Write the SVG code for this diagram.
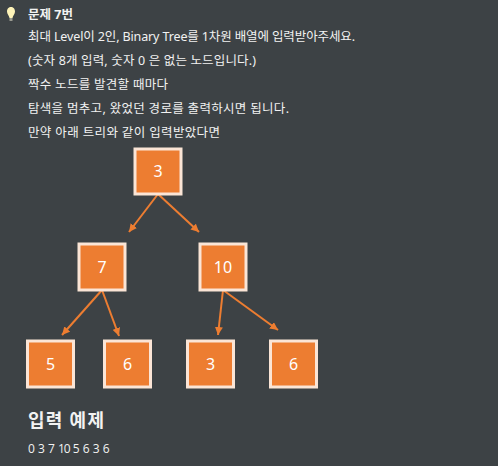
<svg xmlns="http://www.w3.org/2000/svg" width="498" height="466" viewBox="0 0 498 466">
<style>
text{font-family:"Noto Sans","Open Sans","Noto Sans CJK KR",sans-serif;fill:#f2f2f2}
.t{font-size:12.500px}
.n rect{fill:#ed7d31;stroke:#fbe5d6;stroke-width:3px}
.n text{font-size:16px;fill:#fff;text-anchor:middle}
.c{stroke:#ed7d31;stroke-width:2px;fill:none;marker-end:url(#a)}
</style>
<defs><marker id="a" markerUnits="userSpaceOnUse" markerWidth="9" markerHeight="8" refX="8" refY="4" orient="auto"><path d="M0 0L8 4L0 8Z" fill="#ed7d31"/></marker></defs>
<rect width="498" height="466" fill="#3d4245"/>
<g id="bulb"><path d="M11 7C8 7 7 9.500 7 11.500C7 14 9 15.500 9.500 18H12.500C13 15.500 15 14 15 11.500C15 9.500 14 7 11 7Z" fill="#fdf3b8"/><rect x="9.500" y="18" width="3" height="3" fill="#9a9a90"/></g>
<g id="text">
<text class="t" x="28" y="19" font-weight="700" textLength="45">문제 7번</text>
<text class="t" x="28" y="41" textLength="327">최대 Level이 2인, Binary Tree를 1차원 배열에 입력받아주세요.</text>
<text class="t" x="28" y="65" textLength="228">(숫자 8개 입력, 숫자 0 은 없는 노드입니다.)</text>
<text class="t" x="28" y="89" textLength="140">짝수 노드를 발견할 때마다</text>
<text class="t" x="28" y="113" textLength="261">탐색을 멈추고, 왔었던 경로를 출력하시면 됩니다.</text>
<text class="t" x="28" y="137" textLength="192">만약 아래 트리와 같이 입력받았다면</text>
<text x="28" y="427" font-size="18" font-weight="700" textLength="76">입력 예제</text>
<text x="28" y="453" font-size="12" style="font-family:'Open Sans','Noto Sans',sans-serif">0 3 7 <tspan letter-spacing="-1">10</tspan> 5 6 3 6</text>
</g>
<g id="connectors">
<path class="c" d="M158 194L129 232"/>
<path class="c" d="M158 194L199 232"/>
<path class="c" d="M102 290L62 335"/>
<path class="c" d="M102 290L119 336"/>
<path class="c" d="M223 290L218 335"/>
<path class="c" d="M223 290L278 330"/>
</g>
<g id="n3" class="n"><rect x="135" y="149" width="46" height="45"/><text x="158" y="177">3</text></g>
<g id="n7" class="n"><rect x="79" y="244" width="46" height="46"/><text x="102" y="273">7</text></g>
<g id="n10" class="n"><rect x="200" y="244" width="46" height="46"/><text x="223" y="273">10</text></g>
<g id="n5" class="n"><rect x="27.500" y="341" width="46" height="46"/><text x="50.500" y="370">5</text></g>
<g id="n6a" class="n"><rect x="104.500" y="341" width="46" height="46"/><text x="127.500" y="370">6</text></g>
<g id="n3b" class="n"><rect x="187.500" y="341" width="46" height="46"/><text x="210.500" y="370">3</text></g>
<g id="n6b" class="n"><rect x="270.500" y="341" width="46" height="46"/><text x="293.500" y="370">6</text></g>
</svg>
